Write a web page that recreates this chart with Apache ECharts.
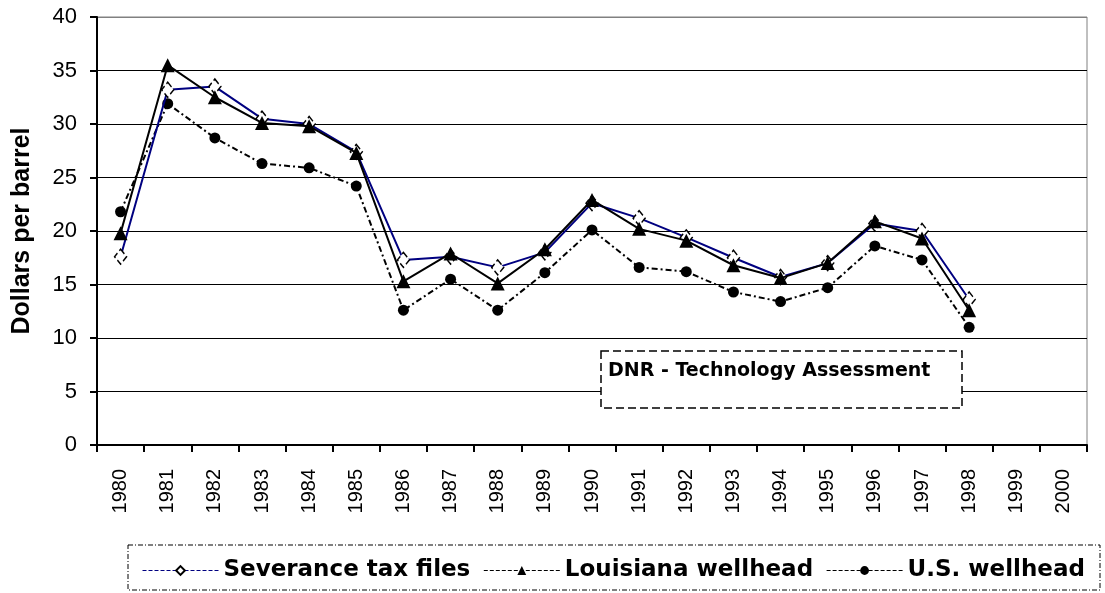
<!DOCTYPE html>
<html>
<head>
<meta charset="utf-8">
<script src="https://cdn.jsdelivr.net/npm/echarts@6/dist/echarts.min.js"></script>
<style>
  html, body { margin: 0; padding: 0; background: #fff; }
  #main { width: 1105px; height: 593px; }
</style>
</head>
<body>
<div id="main"></div>
<script>
// years on the x axis (1999 and 2000 have no data)
const years = ['1980','1981','1982','1983','1984','1985','1986','1987','1988','1989',
               '1990','1991','1992','1993','1994','1995','1996','1997','1998','1999','2000'];

// dollars per barrel
const severance = [17.6, 33.2, 33.5, 30.5, 30.0, 27.4, 17.3, 17.6, 16.6, 18.0,
                   22.6, 21.2, 19.4, 17.5, 15.7, 17.0, 20.7, 20.0, 13.6, null, null];
const louisiana = [19.8, 35.5, 32.5, 30.1, 29.8, 27.3, 15.3, 17.9, 15.1, 18.3,
                   22.9, 20.2, 19.1, 16.8, 15.6, 17.0, 20.9, 19.3, 12.6, null, null];
const usWellhead = [21.8, 31.9, 28.7, 26.3, 25.9, 24.2, 12.6, 15.5, 12.6, 16.1,
                    20.1, 16.6, 16.2, 14.3, 13.4, 14.7, 18.6, 17.3, 11.0, null, null];

const yTicks = [0, 5, 10, 15, 20, 25, 30, 35, 40];

const arial = '"Liberation Sans", Arial, sans-serif';

const chart = echarts.init(document.getElementById('main'), null, {renderer: 'canvas'});

// grid lines black, top one grey like the plot border
const splitColors = yTicks.map((v, i) => i === yTicks.length - 1 ? '#808080' : '#000');

const option = {
  backgroundColor: '#fff',
  animation: false,
  grid: {
    left: 97, right: 18, top: 17, bottom: 148,
    show: true, borderColor: '#808080', borderWidth: 1
  },
  xAxis: {
    type: 'category',
    data: years,
    boundaryGap: true,
    axisLine: {lineStyle: {color: '#000', width: 2}},
    axisTick: {show: true, interval: 0, length: 7, lineStyle: {color: '#000', width: 2}},
    axisLabel: {
      interval: 0, rotate: 90, margin: 24,
      color: '#000', fontSize: 20, fontFamily: arial
    }
  },
  yAxis: {
    type: 'value',
    min: 0, max: 40, interval: 5,
    name: 'Dollars per barrel',
    nameLocation: 'middle',
    nameRotate: 90,
    nameGap: 62,
    nameTextStyle: {color: '#000', fontSize: 25, fontWeight: 'bold', fontFamily: arial},
    axisLine: {show: true, lineStyle: {color: '#000', width: 2}},
    axisTick: {show: true, length: 7, lineStyle: {color: '#000', width: 2}},
    axisLabel: {margin: 20, color: '#000', fontSize: 22, fontFamily: arial},
    splitLine: {show: true, lineStyle: {color: splitColors, width: 1.2}}
  },
  legend: {
    left: 137, top: 554,
    itemWidth: 76, itemHeight: 11, itemGap: 13,
    textStyle: {color: '#000', fontSize: 23, fontWeight: 'bold', fontFamily: '"DejaVu Sans"'},
    lineStyle: {type: 'dashed', width: 1},
    data: ['Severance tax files', 'Louisiana wellhead', 'U.S. wellhead']
  },
  graphic: [
    {
      type: 'rect', z: 100,
      shape: {x: 128, y: 545, width: 972, height: 45},
      style: {fill: 'none', stroke: '#000', lineWidth: 1, lineDash: [5, 2, 1, 2]}
    },
    {
      type: 'rect', z: 100,
      shape: {x: 601, y: 351, width: 361, height: 57},
      style: {fill: '#fff', stroke: '#000', lineWidth: 1.5, lineDash: [8, 4]}
    },
    {
      type: 'text', z: 101, left: 608, top: 362,
      style: {text: 'DNR - Technology Assessment', fill: '#000',
              font: 'bold 19px "DejaVu Sans"'}
    }
  ],
  series: [
    {
      name: 'Severance tax files',
      type: 'line',
      data: severance,
      symbol: 'diamond', symbolSize: [12, 15],
      lineStyle: {color: '#000080', width: 2},
      itemStyle: {color: '#fff', borderColor: '#000', borderWidth: 1.5, borderType: 'dashed'},
      z: 3
    },
    {
      name: 'Louisiana wellhead',
      type: 'line',
      data: louisiana,
      symbol: 'triangle', symbolSize: 14,
      lineStyle: {color: '#000', width: 2},
      itemStyle: {color: '#000'},
      z: 4
    },
    {
      name: 'U.S. wellhead',
      type: 'line',
      data: usWellhead,
      symbol: 'circle', symbolSize: 11,
      lineStyle: {color: '#000', width: 2, type: [6, 3, 2, 3]},
      itemStyle: {color: '#000'},
      z: 2
    }
  ]
};

chart.setOption(option);
</script>
</body>
</html>
